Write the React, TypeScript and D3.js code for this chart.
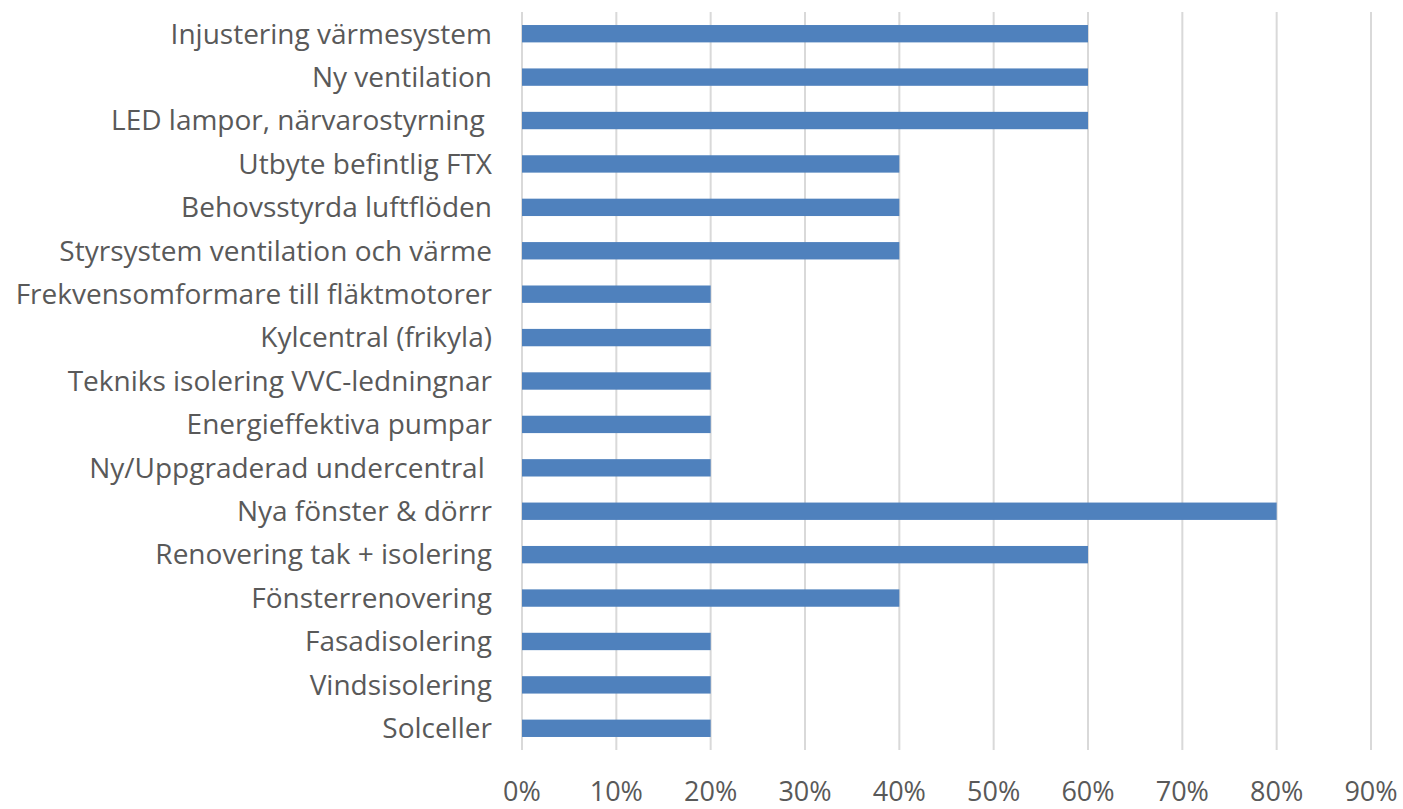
import React, { useEffect, useRef } from 'react';
import * as d3 from 'd3';

const categories = [
  'Injustering värmesystem',
  'Ny ventilation',
  'LED lampor, närvarostyrning ',
  'Utbyte befintlig FTX',
  'Behovsstyrda luftflöden',
  'Styrsystem ventilation och värme',
  'Frekvensomformare till fläktmotorer',
  'Kylcentral (frikyla)',
  'Tekniks isolering VVC-ledningnar',
  'Energieffektiva pumpar',
  'Ny/Uppgraderad undercentral ',
  'Nya fönster & dörrr',
  'Renovering tak + isolering',
  'Fönsterrenovering',
  'Fasadisolering',
  'Vindsisolering',
  'Solceller',
];
const values = [0.6, 0.6, 0.6, 0.4, 0.4, 0.4, 0.2, 0.2, 0.2, 0.2, 0.2, 0.8, 0.6, 0.4, 0.2, 0.2, 0.2];
const tickValues = [0, 0.1, 0.2, 0.3, 0.4, 0.5, 0.6, 0.7, 0.8, 0.9];

export default function App() {
  const ref = useRef<SVGSVGElement>(null);

  useEffect(() => {
    const svg = d3.select(ref.current);
    svg.selectAll('*').remove();

    const left = 522, right = 1371, top = 12, bottom = 750;
    const font = 'Open Sans, sans-serif';

    const x = d3.scaleLinear().domain([0, 0.9]).range([left, right]);
    const y = d3.scaleBand<string>()
      .domain(categories)
      .range([top, bottom])
      .paddingInner(0.6)
      .paddingOuter(0.3);

    // gridlines
    svg.append('g')
      .selectAll('line')
      .data(tickValues)
      .join('line')
      .attr('x1', d => x(d))
      .attr('x2', d => x(d))
      .attr('y1', top)
      .attr('y2', bottom)
      .attr('stroke', '#d9d9d9')
      .attr('stroke-width', 2);

    // bars
    svg.append('g')
      .selectAll('rect')
      .data(categories)
      .join('rect')
      .attr('x', x(0))
      .attr('y', d => y(d)!)
      .attr('width', (d, i) => x(values[i]) - x(0))
      .attr('height', y.bandwidth())
      .attr('fill', '#4f81bd');

    // category labels
    svg.append('g')
      .selectAll('text')
      .data(categories)
      .join('text')
      .attr('x', 492)
      .attr('y', d => y(d)! + y.bandwidth() / 2)
      .attr('dy', '0.35em')
      .attr('text-anchor', 'end')
      .attr('fill', '#595959')
      .style('font-family', font)
      .style('font-size', '28px')
      .style('white-space', 'pre')
      .text(d => d);

    // x tick labels
    svg.append('g')
      .selectAll('text')
      .data(tickValues)
      .join('text')
      .attr('x', d => x(d))
      .attr('y', 801)
      .attr('text-anchor', 'middle')
      .attr('fill', '#595959')
      .style('font-family', font)
      .style('font-size', '27px')
      .text(d => d3.format('.0%')(d));
  }, []);

  return (
    <svg ref={ref} width={1403} height={809}
      style={{ position: 'absolute', left: 0, top: 0, background: '#fff' }} />
  );
}
